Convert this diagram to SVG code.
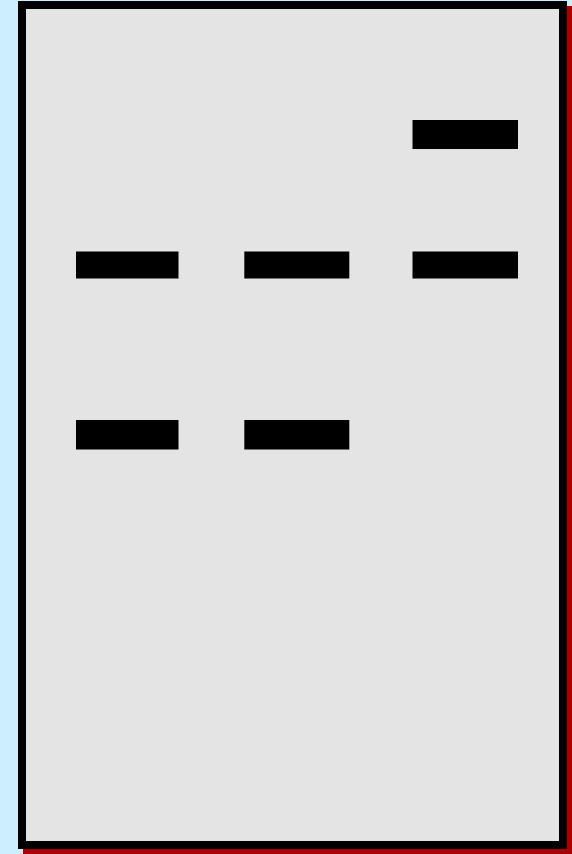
<svg xmlns="http://www.w3.org/2000/svg" width="572" height="854" viewBox="0 0 572 854">
<style>
.band{fill:#000000}
</style>
<rect x="0" y="0" width="572" height="854" fill="#cceeff"/>
<g id="gel">
<rect x="23" y="6" width="549" height="848" fill="#aa0000"/>
<rect x="22" y="5" width="541" height="840" fill="#e4e4e4" stroke="#000000" stroke-width="8"/>
</g>
<g id="bands">
<rect id="b1" class="band" x="412.5" y="120" width="105.5" height="29"/>
<rect id="b2" class="band" x="76" y="251.5" width="102.5" height="27"/>
<rect id="b3" class="band" x="244.3" y="251.5" width="105" height="27"/>
<rect id="b4" class="band" x="412.5" y="251.5" width="105.5" height="27"/>
<rect id="b5" class="band" x="76" y="420" width="102.5" height="29.5"/>
<rect id="b6" class="band" x="244.3" y="420" width="105" height="29.5"/>
</g>
</svg>
